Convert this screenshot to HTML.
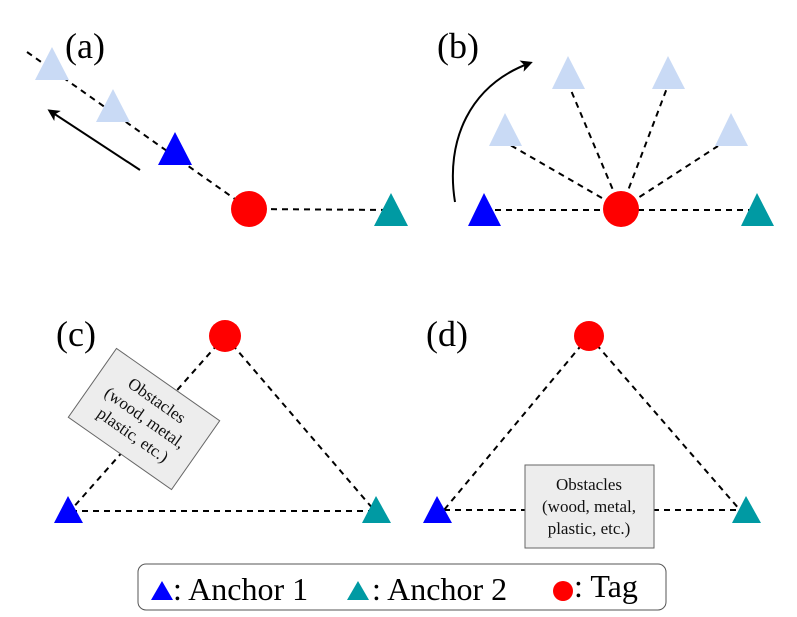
<!DOCTYPE html>
<html><head><meta charset="utf-8"><style>html,body{margin:0;padding:0;background:#fff}svg{display:block}</style></head>
<body>
<svg width="797" height="617" viewBox="0 0 797 617" xmlns="http://www.w3.org/2000/svg" font-family="Liberation Serif, serif">
<defs>
<marker id="ah" markerWidth="12" markerHeight="12" refX="9" refY="6" orient="auto" markerUnits="userSpaceOnUse" viewBox="0 0 12 12"><path d="M0,0 L12,6 L0,12 L3,6 Z" fill="#000"/></marker>
</defs>
<g stroke="#000" stroke-width="2" stroke-dasharray="6,5" fill="none">
<line x1="27" y1="52" x2="249" y2="209"/>
<line x1="249" y1="209" x2="391" y2="210"/>
<line x1="484" y1="210" x2="757" y2="210"/>
<line x1="621" y1="209" x2="505" y2="142"/>
<line x1="621" y1="209" x2="570" y2="88"/>
<line x1="621" y1="209" x2="667" y2="88"/>
<line x1="621" y1="209" x2="718" y2="146"/>
<line x1="225" y1="336" x2="71" y2="510"/>
<line x1="225" y1="336" x2="374" y2="510"/>
<line x1="71" y1="511" x2="374" y2="511"/>
<line x1="589" y1="336" x2="444" y2="510"/>
<line x1="589" y1="336" x2="740" y2="510"/>
<line x1="444" y1="510" x2="740" y2="510"/>
</g>
<text x="65" y="58" font-size="36">(a)</text>
<polygon points="52,47 35,80 69,80" fill="#c9daf5"/>
<polygon points="113,89 96,122 130,122" fill="#c9daf5"/>
<polygon points="175,132 158,165 192,165" fill="#0000ff"/>
<circle cx="249" cy="209" r="18" fill="#ff0000"/>
<polygon points="391,193 374,226 408,226" fill="#009aa3"/>
<line x1="140" y1="170" x2="50" y2="111" stroke="#000" stroke-width="2" marker-end="url(#ah)"/>
<text x="437" y="58" font-size="36">(b)</text>
<path d="M455,202 C445,140 470,85 530,63" stroke="#000" stroke-width="2" fill="none" marker-end="url(#ah)"/>
<polygon points="505,113 489,146 522,146" fill="#c9daf5"/>
<polygon points="568,56 552,89 585,89" fill="#c9daf5"/>
<polygon points="668,56 652,89 685,89" fill="#c9daf5"/>
<polygon points="731,113 715,146 748,146" fill="#c9daf5"/>
<polygon points="484,193 468,226 501,226" fill="#0000ff"/>
<circle cx="621" cy="209" r="18" fill="#ff0000"/>
<polygon points="757,193 741,226 774,226" fill="#009aa3"/>
<text x="56" y="346" font-size="36">(c)</text>
<circle cx="225" cy="336" r="16" fill="#ff0000"/>
<polygon points="68,496 54,523 83,523" fill="#0000ff"/>
<polygon points="376,496 362,523 391,523" fill="#009aa3"/>
<g transform="translate(144,419) rotate(35)">
<rect x="-63" y="-42" width="126" height="84" fill="#ededed" stroke="#666" stroke-width="1"/>
<text text-anchor="middle" font-size="17" fill="#111"><tspan x="0" y="-17">Obstacles</tspan><tspan x="0" y="4">(wood, metal,</tspan><tspan x="0" y="25">plastic, etc.)</tspan></text>
</g>
<text x="426" y="346" font-size="36">(d)</text>
<circle cx="589" cy="336" r="15" fill="#ff0000"/>
<polygon points="437,496 423,523 452,523" fill="#0000ff"/>
<polygon points="746,496 732,523 761,523" fill="#009aa3"/>
<rect x="525" y="465" width="129" height="83" fill="#ededed" stroke="#666" stroke-width="1"/>
<text text-anchor="middle" font-size="17" fill="#111"><tspan x="589" y="490">Obstacles</tspan><tspan x="589" y="512">(wood, metal,</tspan><tspan x="589" y="534">plastic, etc.)</tspan></text>
<rect x="138" y="564" width="528" height="46" rx="8" fill="#fff" stroke="#555" stroke-width="1"/>
<polygon points="162,581 151,600 173,600" fill="#0000ff"/>
<text x="173" y="600" font-size="32">: Anchor 1</text>
<polygon points="358,581 347,600 369,600" fill="#009aa3"/>
<text x="372" y="600" font-size="32">: Anchor 2</text>
<circle cx="563" cy="591" r="10" fill="#ff0000"/>
<text x="574" y="597" font-size="32">: Tag</text>
</svg>
</body></html>
